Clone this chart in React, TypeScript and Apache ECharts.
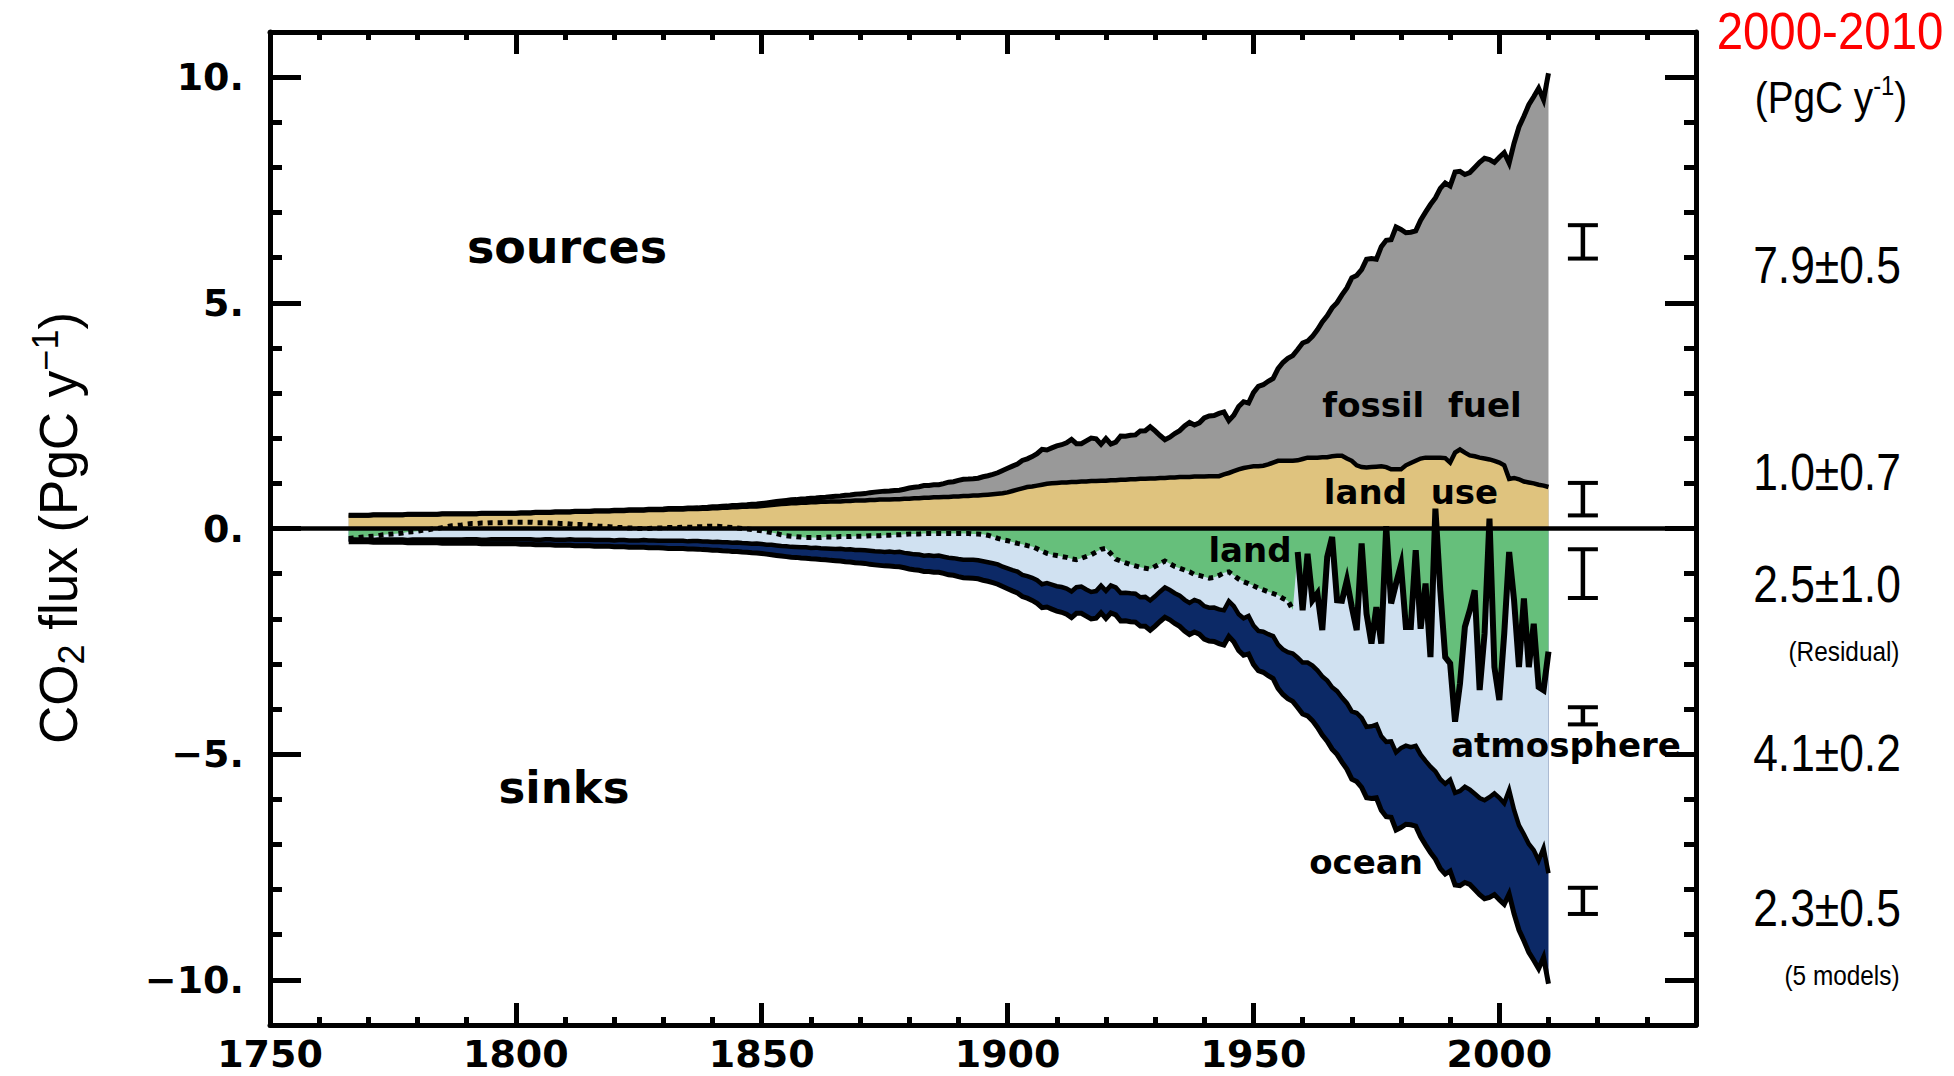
import React, { useEffect, useRef } from "react";
import * as echarts from "echarts";

// ---------------- data (PgC per year), one value per year from startYear ----------------
const startYear = 1766;
const firstAnnualYear = 1959; // land residual drawn solid from here, dotted before

const fossilFuel = [
  0.003, 0.003, 0.003, 0.003, 0.003, 0.003, 0.003, 0.004, 0.004, 0.004,
  0.004, 0.004, 0.004, 0.004, 0.005, 0.005, 0.005, 0.005, 0.005, 0.005,
  0.005, 0.006, 0.006, 0.006, 0.007, 0.007, 0.007, 0.007, 0.007, 0.007,
  0.008, 0.008, 0.008, 0.008, 0.008, 0.009, 0.009, 0.009, 0.009, 0.01,
  0.01, 0.01, 0.01, 0.01, 0.01, 0.011, 0.011, 0.011, 0.012, 0.012,
  0.013, 0.013, 0.013, 0.014, 0.014, 0.015, 0.015, 0.016, 0.016, 0.017,
  0.017, 0.018, 0.018, 0.019, 0.02, 0.021, 0.022, 0.023, 0.024, 0.025,
  0.026, 0.027, 0.028, 0.03, 0.031, 0.033, 0.035, 0.036, 0.038, 0.041,
  0.043, 0.046, 0.048, 0.051, 0.054, 0.058, 0.062, 0.066, 0.07, 0.073,
  0.077, 0.08, 0.083, 0.087, 0.091, 0.094, 0.097, 0.101, 0.106, 0.112,
  0.118, 0.125, 0.131, 0.137, 0.147, 0.153, 0.164, 0.176, 0.177, 0.188,
  0.191, 0.194, 0.196, 0.21, 0.236, 0.243, 0.256, 0.272, 0.275, 0.277,
  0.281, 0.295, 0.327, 0.327, 0.356, 0.372, 0.374, 0.37, 0.383, 0.406,
  0.419, 0.44, 0.465, 0.507, 0.534, 0.552, 0.566, 0.617, 0.624, 0.663,
  0.707, 0.784, 0.75, 0.785, 0.819, 0.836, 0.879, 0.943, 0.85, 0.838,
  0.901, 0.955, 0.936, 0.806, 0.932, 0.803, 0.845, 0.97, 0.963, 0.975,
  0.983, 1.062, 1.065, 1.145, 1.053, 0.94, 0.847, 0.893, 0.973, 1.027,
  1.13, 1.209, 1.142, 1.192, 1.299, 1.334, 1.342, 1.391, 1.383, 1.16,
  1.238, 1.392, 1.469, 1.419, 1.63, 1.768, 1.796, 1.841, 1.865, 2.043,
  2.177, 2.27, 2.33, 2.454, 2.569, 2.58, 2.686, 2.833, 2.995, 3.13,
  3.288, 3.393, 3.566, 3.78, 4.053, 4.208, 4.376, 4.614, 4.623, 4.596,
  4.864, 5.026, 5.087, 5.369, 5.315, 5.152, 5.113, 5.094, 5.28, 5.439,
  5.607, 5.752, 5.965, 6.097, 6.127, 6.217, 6.164, 6.162, 6.266, 6.398,
  6.542, 6.651, 6.643, 6.61, 6.765, 6.927, 6.996, 7.416, 7.807, 8.093,
  8.37, 8.566, 8.783, 8.55, 9.167,
];

const landUse = [
  0.29, 0.29, 0.29, 0.29, 0.29, 0.3, 0.3, 0.3, 0.3, 0.3,
  0.3, 0.3, 0.31, 0.31, 0.31, 0.31, 0.31, 0.31, 0.31, 0.32,
  0.32, 0.32, 0.32, 0.32, 0.32, 0.32, 0.32, 0.33, 0.33, 0.33,
  0.33, 0.33, 0.33, 0.33, 0.33, 0.34, 0.34, 0.34, 0.35, 0.35,
  0.35, 0.35, 0.36, 0.36, 0.36, 0.36, 0.37, 0.37, 0.37, 0.37,
  0.38, 0.38, 0.38, 0.38, 0.39, 0.39, 0.39, 0.4, 0.4, 0.4,
  0.4, 0.41, 0.41, 0.41, 0.41, 0.42, 0.42, 0.42, 0.42, 0.43,
  0.43, 0.43, 0.44, 0.44, 0.45, 0.45, 0.46, 0.46, 0.47, 0.47,
  0.48, 0.48, 0.49, 0.49, 0.5, 0.51, 0.52, 0.53, 0.54, 0.55,
  0.56, 0.56, 0.57, 0.57, 0.58, 0.58, 0.59, 0.59, 0.6, 0.6,
  0.6, 0.61, 0.61, 0.62, 0.62, 0.62, 0.63, 0.63, 0.64, 0.64,
  0.64, 0.65, 0.65, 0.66, 0.66, 0.67, 0.67, 0.68, 0.68, 0.69,
  0.69, 0.7, 0.7, 0.71, 0.71, 0.72, 0.72, 0.73, 0.73, 0.74,
  0.75, 0.76, 0.77, 0.78, 0.8, 0.83, 0.86, 0.89, 0.92, 0.93,
  0.95, 0.97, 0.99, 1.0, 1.01, 1.02, 1.02, 1.03, 1.03, 1.04,
  1.04, 1.05, 1.05, 1.06, 1.06, 1.07, 1.07, 1.08, 1.08, 1.09,
  1.09, 1.1, 1.1, 1.11, 1.11, 1.12, 1.12, 1.13, 1.13, 1.14,
  1.14, 1.14, 1.15, 1.15, 1.15, 1.16, 1.16, 1.16, 1.2, 1.23,
  1.27, 1.31, 1.34, 1.36, 1.38, 1.38, 1.39, 1.42, 1.46, 1.5,
  1.5, 1.5, 1.5, 1.51, 1.54, 1.57, 1.57, 1.57, 1.58, 1.58,
  1.6, 1.61, 1.61, 1.55, 1.5, 1.4, 1.36, 1.35, 1.36, 1.37,
  1.38, 1.36, 1.31, 1.31, 1.31, 1.4, 1.45, 1.5, 1.55, 1.57,
  1.57, 1.57, 1.57, 1.56, 1.46, 1.68, 1.75, 1.68, 1.62, 1.6,
  1.57, 1.55, 1.53, 1.5, 1.46, 1.4, 1.1, 1.12, 1.09, 1.04,
  1.02, 1.0, 0.97, 0.95, 0.92,
];

const oceanSink = [
  0.05, 0.05, 0.05, 0.05, 0.05, 0.05, 0.06, 0.06, 0.06, 0.06,
  0.06, 0.06, 0.06, 0.07, 0.07, 0.07, 0.07, 0.07, 0.07, 0.08,
  0.08, 0.08, 0.08, 0.08, 0.09, 0.09, 0.09, 0.09, 0.09, 0.1,
  0.1, 0.1, 0.1, 0.1, 0.1, 0.11, 0.11, 0.11, 0.11, 0.11,
  0.12, 0.12, 0.12, 0.12, 0.12, 0.13, 0.13, 0.13, 0.13, 0.13,
  0.14, 0.14, 0.14, 0.14, 0.14, 0.15, 0.15, 0.15, 0.15, 0.15,
  0.16, 0.16, 0.16, 0.16, 0.16, 0.17, 0.17, 0.17, 0.17, 0.17,
  0.18, 0.18, 0.18, 0.18, 0.18, 0.19, 0.19, 0.19, 0.19, 0.2,
  0.2, 0.2, 0.2, 0.21, 0.21, 0.21, 0.22, 0.22, 0.22, 0.23,
  0.23, 0.23, 0.24, 0.24, 0.24, 0.25, 0.25, 0.25, 0.26, 0.26,
  0.27, 0.27, 0.28, 0.28, 0.29, 0.29, 0.3, 0.3, 0.31, 0.31,
  0.32, 0.32, 0.33, 0.33, 0.34, 0.34, 0.35, 0.35, 0.36, 0.36,
  0.37, 0.37, 0.38, 0.38, 0.39, 0.4, 0.4, 0.41, 0.41, 0.42,
  0.42, 0.43, 0.44, 0.44, 0.45, 0.46, 0.47, 0.48, 0.49, 0.5,
  0.51, 0.52, 0.53, 0.54, 0.55, 0.56, 0.57, 0.58, 0.58, 0.59,
  0.59, 0.6, 0.6, 0.6, 0.61, 0.61, 0.61, 0.62, 0.62, 0.63,
  0.63, 0.64, 0.65, 0.66, 0.66, 0.66, 0.66, 0.66, 0.67, 0.68,
  0.69, 0.7, 0.71, 0.72, 0.73, 0.74, 0.75, 0.76, 0.77, 0.78,
  0.79, 0.8, 0.82, 0.84, 0.86, 0.88, 0.9, 0.92, 0.94, 0.97,
  1.0, 1.03, 1.06, 1.1, 1.14, 1.18, 1.22, 1.26, 1.3, 1.34,
  1.37, 1.4, 1.43, 1.46, 1.5, 1.52, 1.54, 1.57, 1.6, 1.62,
  1.64, 1.66, 1.68, 1.72, 1.76, 1.74, 1.72, 1.78, 1.82, 1.86,
  1.9, 1.94, 1.98, 2.0, 2.02, 2.04, 2.1, 2.12, 2.1, 2.12,
  2.14, 2.18, 2.22, 2.24, 2.26, 2.24, 2.3, 2.3, 2.32, 2.36,
  2.4, 2.44, 2.4, 2.42, 2.45,
];

// land sink (positive = uptake); negative values = land acting as a net source
const landSink = [
  0.22, 0.21, 0.2, 0.19, 0.18, 0.17, 0.16, 0.14, 0.13, 0.12,
  0.11, 0.1, 0.08, 0.07, 0.06, 0.04, 0.03, 0.01, 0.0, -0.02,
  -0.04, -0.06, -0.07, -0.08, -0.1, -0.11, -0.11, -0.12, -0.12, -0.13,
  -0.13, -0.13, -0.14, -0.14, -0.14, -0.14, -0.14, -0.14, -0.13, -0.13,
  -0.13, -0.12, -0.12, -0.11, -0.11, -0.1, -0.09, -0.09, -0.08, -0.07,
  -0.06, -0.05, -0.05, -0.04, -0.03, -0.02, -0.02, -0.01, -0.01, 0.0,
  0.0, 0.0, -0.01, -0.01, -0.01, -0.02, -0.02, -0.02, -0.03, -0.03,
  -0.03, -0.04, -0.04, -0.05, -0.05, -0.05, -0.04, -0.03, -0.02, -0.01,
  0.0, 0.01, 0.02, 0.04, 0.05, 0.07, 0.09, 0.11, 0.14, 0.16,
  0.17, 0.18, 0.19, 0.2, 0.2, 0.2, 0.2, 0.19, 0.19, 0.19,
  0.18, 0.18, 0.18, 0.17, 0.17, 0.17, 0.16, 0.16, 0.16, 0.15,
  0.15, 0.14, 0.14, 0.13, 0.12, 0.12, 0.12, 0.11, 0.11, 0.11,
  0.11, 0.11, 0.11, 0.11, 0.11, 0.11, 0.11, 0.12, 0.12, 0.13,
  0.15, 0.18, 0.22, 0.25, 0.27, 0.3, 0.33, 0.35, 0.38, 0.4,
  0.45, 0.5, 0.55, 0.58, 0.6, 0.62, 0.64, 0.67, 0.69, 0.66,
  0.62, 0.58, 0.52, 0.46, 0.44, 0.56, 0.68, 0.72, 0.76, 0.8,
  0.83, 0.86, 0.88, 0.9, 0.84, 0.78, 0.72, 0.78, 0.84, 0.88,
  0.92, 0.96, 1.02, 1.04, 1.07, 1.1, 1.08, 1.04, 0.98, 0.96,
  1.04, 1.12, 1.18, 1.22, 1.27, 1.32, 1.36, 1.4, 1.44, 1.48,
  1.55, 1.6, 1.8, 0.52, 1.81, 0.56, 1.59, 1.44, 2.25, 0.63,
  0.19, 1.59, 1.6, 1.15, 1.74, 2.25, 0.33, 1.89, 2.55, 1.74,
  2.55, -0.05, 1.66, 1.22, 0.81, 2.18, 2.18, 0.48, 2.22, 1.22,
  2.85, -0.44, 1.37, 2.85, 2.99, 4.28, 3.44, 2.18, 1.81, 1.37,
  3.58, 2.33, -0.22, 3.07, 3.8, 2.33, 0.52, 1.59, 3.07, 1.55,
  3.07, 2.11, 3.51, 3.58, 2.73,
];

// 2000-2010 budget uncertainty bars drawn right of the data
const errorBarYear = 2017;
const errorBarLow = [5.98, 0.29, -1.54, -4.34, -8.54];
const errorBarHigh = [6.72, 1.01, -0.46, -3.96, -7.96];
const budgetValues = ["7.9±0.5", "1.0±0.7", "2.5±1.0", "4.1±0.2", "2.3±0.5"];

// axis ticks
const xLabelValues = [1750, 1800, 1850, 1900, 1950, 2000];
const xMajorTicks = [1800, 1850, 1900, 1950, 2000];
const xMinorTicks = [
  1760, 1770, 1780, 1790, 1810, 1820, 1830, 1840, 1860, 1870, 1880, 1890,
  1910, 1920, 1930, 1940, 1960, 1970, 1980, 1990, 2010, 2020, 2030,
];
const yMajorTicks = [-10, -5, 0, 5, 10];
const yMinorTicks = [-9, -8, -7, -6, -4, -3, -2, -1, 1, 2, 3, 4, 6, 7, 8, 9];

// ---------------- colours ----------------
const C_FOSSIL = "#999999";
const C_LANDUSE = "#dfc37e";
const C_LAND = "#66bf7b";
const C_ATM = "#d0e1f1";
const C_OCEAN = "#0c2966";

export default function App() {
  const ref = useRef<HTMLDivElement>(null);

  useEffect(() => {
    if (!ref.current) return;
    const chart = echarts.init(ref.current, undefined, { renderer: "svg" });

    const years = fossilFuel.map((_, i) => startYear + i);
    const total = fossilFuel.map((f, i) => f + landUse[i]);
    const oceanTop = total.map((t, i) => -t + oceanSink[i]);
    const landLine = landSink.map((v) => -v);
    const pair = (arr: number[]) => years.map((y, i) => [y, +arr[i].toFixed(3)]);

    const area = (values: number[], color: string, z: number) => ({
      type: "line",
      data: pair(values),
      symbol: "none",
      silent: true,
      z,
      lineStyle: { width: 0, opacity: 0 },
      areaStyle: { color, opacity: 1, origin: "auto" },
    });
    const outline = (data: number[][], width: number, dashed = false, extra: any = {}) => ({
      type: "line",
      data,
      symbol: "none",
      silent: true,
      z: 6,
      lineStyle: {
        color: "#000",
        width,
        join: "miter",
        miterLimit: 6,
        cap: "butt",
        type: dashed ? [5, 5] : "solid",
      },
      ...extra,
    });

    const landDotted = pair(landLine).filter((p) => p[0] < firstAnnualYear);
    const landSolid = pair(landLine).filter((p) => p[0] >= firstAnnualYear);

    const tickStyle = { color: "#000", width: 5, cap: "butt" };
    const labelFont = {
      fontFamily: "DejaVu Sans",
      fontWeight: "bold",
      fontSize: 38,
      color: "#000",
    };

    const mkX = (position: string, ticks: number[], len: number, line: boolean, labels: boolean) => ({
      type: "value",
      position,
      min: 1750,
      max: 2040,
      gridIndex: 0,
      splitLine: { show: false },
      axisLine: { show: line, onZero: false, lineStyle: { color: "#000", width: 5 } },
      axisTick: { show: true, inside: true, length: len, customValues: ticks, lineStyle: tickStyle },
      axisLabel: labels
        ? { show: true, customValues: xLabelValues, margin: 10, formatter: (v: number) => String(v), ...labelFont }
        : { show: false },
    });
    const mkY = (position: string, ticks: number[], len: number, line: boolean, labels: boolean) => ({
      type: "value",
      position,
      min: -11,
      max: 11,
      gridIndex: 0,
      splitLine: { show: false },
      axisLine: { show: line, onZero: false, lineStyle: { color: "#000", width: 5 } },
      axisTick: { show: true, inside: true, length: len, customValues: ticks, lineStyle: tickStyle },
      axisLabel: labels
        ? {
            show: true,
            customValues: yMajorTicks,
            margin: 26,
            formatter: (v: number) => (v < 0 ? "\u2212" + Math.abs(v) : String(v)) + ".",
            ...labelFont,
          }
        : { show: false },
    });

    const errorSeries = {
      type: "custom",
      silent: true,
      z: 8,
      xAxisIndex: 0,
      yAxisIndex: 0,
      encode: { x: 0, y: [1, 2] },
      data: errorBarLow.map((lo, i) => [errorBarYear, lo, errorBarHigh[i]]),
      renderItem: (_params: any, api: any) => {
        const lo = api.coord([api.value(0), api.value(1)]);
        const hi = api.coord([api.value(0), api.value(2)]);
        const half = 15;
        return {
          type: "group",
          children: [
            { type: "line", shape: { x1: lo[0], y1: lo[1], x2: hi[0], y2: hi[1] }, style: { stroke: "#000", lineWidth: 4.5 } },
            { type: "line", shape: { x1: lo[0] - half, y1: lo[1], x2: lo[0] + half, y2: lo[1] }, style: { stroke: "#000", lineWidth: 4 } },
            { type: "line", shape: { x1: hi[0] - half, y1: hi[1], x2: hi[0] + half, y2: hi[1] }, style: { stroke: "#000", lineWidth: 4 } },
          ],
        };
      },
    };

    const t = (text: string, x: number, y: number, font: string, extra: any = {}, el: any = {}) => ({
      type: "text",
      x,
      y,
      silent: true,
      z: 20,
      ...el,
      style: { text, fill: "#000", font, align: "center", verticalAlign: "middle", ...extra },
    });

    const narrow = "Liberation Sans";
    const budgetY = [265, 472, 584, 753, 908];
    const graphics: any[] = [
      t("sources", 567, 247, 'bold 46px "DejaVu Sans"'),
      t("sinks", 564, 787, 'bold 45px "DejaVu Sans"'),
      t("fossil  fuel", 1422, 405, 'bold 34px "DejaVu Sans"'),
      t("land  use", 1411, 492, 'bold 34px "DejaVu Sans"'),
      t("land", 1250, 550, 'bold 34px "DejaVu Sans"'),
      t("atmosphere", 1566, 745, 'bold 34px "DejaVu Sans"'),
      t("ocean", 1366, 862, 'bold 34px "DejaVu Sans"'),
      t("2000-2010", 1830, 31, `51px "${narrow}"`, { fill: "#ff0000" }, { scaleX: 0.93 }),
      t("{a|(PgC y}{p|-1}{a|)}", 1831, 98, `44px "${narrow}"`, {
        rich: {
          a: { fontFamily: narrow, fontSize: 44, lineHeight: 52, fill: "#000" },
          p: { fontFamily: narrow, fontSize: 27, lineHeight: 30, verticalAlign: "top", fill: "#000" },
        },
      }, { scaleX: 0.88 }),
      ...budgetValues.map((s, i) => t(s, 1827, budgetY[i], `51px "${narrow}"`, {}, { scaleX: 0.87 })),
      t("(Residual)", 1844, 651, `28px "${narrow}"`, {}, { scaleX: 0.87 }),
      t("(5 models)", 1842, 975, `28px "${narrow}"`, {}, { scaleX: 0.87 }),
      t("{a|CO}{s|2}{a| flux (PgC y}{p|\u22121}{a|)}", 58, 528, `53px "${narrow}"`, {
        rich: {
          a: { fontFamily: narrow, fontSize: 53, lineHeight: 62, fill: "#000" },
          s: { fontFamily: narrow, fontSize: 36, lineHeight: 24, verticalAlign: "bottom", fill: "#000" },
          p: { fontFamily: narrow, fontSize: 36, lineHeight: 36, verticalAlign: "top", fill: "#000" },
        },
      }, { rotation: Math.PI / 2 }),
    ];

    const option: any = {
      animation: false,
      backgroundColor: "#ffffff",
      grid: { left: 270, right: 258, top: 32, bottom: 51, containLabel: false },
      xAxis: [
        mkX("bottom", xMajorTicks, 22, true, true),
        mkX("bottom", xMinorTicks, 8, false, false),
        mkX("top", xMajorTicks, 22, true, false),
        mkX("top", xMinorTicks, 8, false, false),
      ],
      yAxis: [
        mkY("left", yMajorTicks, 31, true, true),
        mkY("left", yMinorTicks, 12, false, false),
        mkY("right", yMajorTicks, 31, true, false),
        mkY("right", yMinorTicks, 12, false, false),
      ],
      series: [
        area(total, C_FOSSIL, 2),
        area(landUse, C_LANDUSE, 3),
        area(total.map((v) => -v), C_OCEAN, 2),
        area(oceanTop, C_ATM, 3),
        area(landLine.map((v) => Math.min(v, 0)), C_LAND, 4),
        outline(pair(total), 5),
        outline(pair(landUse), 4.5),
        outline(pair(total.map((v) => -v)), 5),
        outline(pair(oceanTop), 4.5),
        outline(landDotted, 5, true),
        outline(landSolid, 6, false, {
          markLine: {
            silent: true,
            symbol: ["none", "none"],
            label: { show: false },
            lineStyle: { color: "#000", width: 4.5, type: "solid" },
            data: [{ yAxis: 0 }],
          },
        }),
        errorSeries,
      ],
      graphic: { elements: graphics },
    };

    chart.setOption(option);
    return () => chart.dispose();
  }, []);

  return (
    <div
      ref={ref}
      style={{ position: "fixed", left: 0, top: 0, width: 1954, height: 1076, background: "#fff" }}
    />
  );
}
